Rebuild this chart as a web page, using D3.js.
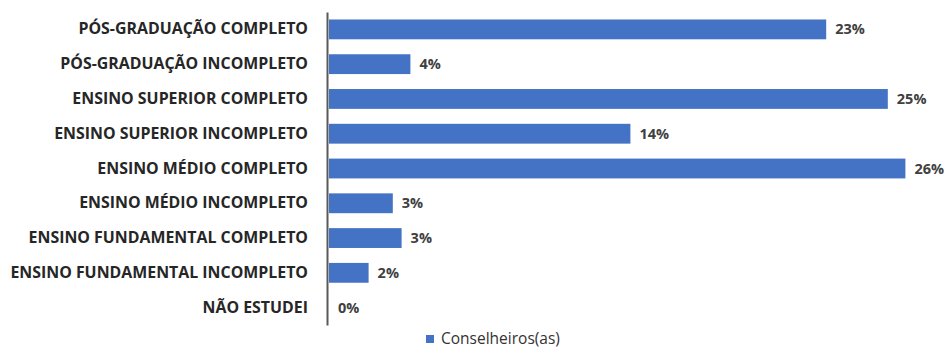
<!DOCTYPE html>
<html>
<head>
<meta charset="utf-8">
<script src="https://cdn.jsdelivr.net/npm/d3@7"></script>
<style>
  html, body { margin: 0; padding: 0; background: #ffffff; }
  svg { display: block; }
</style>
</head>
<body>
<svg id="chart" width="949" height="350"></svg>
<script>
// Escolaridade dos conselheiros(as)
const categories = [
  "PÓS-GRADUAÇÃO COMPLETO",
  "PÓS-GRADUAÇÃO INCOMPLETO",
  "ENSINO SUPERIOR COMPLETO",
  "ENSINO SUPERIOR INCOMPLETO",
  "ENSINO MÉDIO COMPLETO",
  "ENSINO MÉDIO INCOMPLETO",
  "ENSINO FUNDAMENTAL COMPLETO",
  "ENSINO FUNDAMENTAL INCOMPLETO",
  "NÃO ESTUDEI"
];
const values = [22.6, 3.7, 25.4, 13.7, 26.2, 2.9, 3.3, 1.8, 0];
const seriesName = "Conselheiros(as)";

const barColor = "#4472C4";
const font = "'Open Sans', 'Noto Sans', sans-serif";
const svg = d3.select("#chart");

const plotLeft = 329, plotTop = 12, plotBottom = 325;
const x = d3.scaleLinear().domain([0, 27]).range([plotLeft, plotLeft + 27 * 22.0]);
const y = d3.scaleBand().domain(categories).range([plotTop, plotBottom])
  .paddingInner(0.43).paddingOuter(0.215);

// Bars
svg.append("g").selectAll("rect")
  .data(values)
  .join("rect")
  .attr("x", x(0))
  .attr("y", (d, i) => y(categories[i]))
  .attr("width", d => x(d) - x(0))
  .attr("height", y.bandwidth())
  .attr("fill", barColor);

// Category axis
const yAxis = svg.append("g")
  .attr("transform", `translate(${plotLeft - 2},0)`)
  .call(d3.axisLeft(y).tickSize(0).tickPadding(19));
yAxis.select(".domain").attr("stroke", "#595959").attr("stroke-width", 2);
yAxis.selectAll("text")
  .attr("font-family", font)
  .attr("font-weight", "bold")
  .attr("font-size", 15.9)
  .attr("fill", "#262626");

// Value labels
svg.append("g").selectAll("text")
  .data(values)
  .join("text")
  .attr("x", d => x(d) + 9)
  .attr("y", (d, i) => y(categories[i]) + y.bandwidth() / 2)
  .attr("dy", "0.35em")
  .attr("font-family", font)
  .attr("font-weight", "bold")
  .attr("font-size", 14.5)
  .attr("fill", "#404040")
  .text(d => d3.format(".0f")(d) + "%");

// Legend
const legend = svg.append("g").attr("transform", "translate(426,339)");
legend.append("rect")
  .attr("x", 0).attr("y", -4).attr("width", 8).attr("height", 8)
  .attr("fill", barColor);
legend.append("text")
  .attr("x", 15).attr("y", 0).attr("dy", "0.35em")
  .attr("font-family", font)
  .attr("font-size", 15.5)
  .attr("fill", "#333333")
  .text(seriesName);
</script>
</body>
</html>
